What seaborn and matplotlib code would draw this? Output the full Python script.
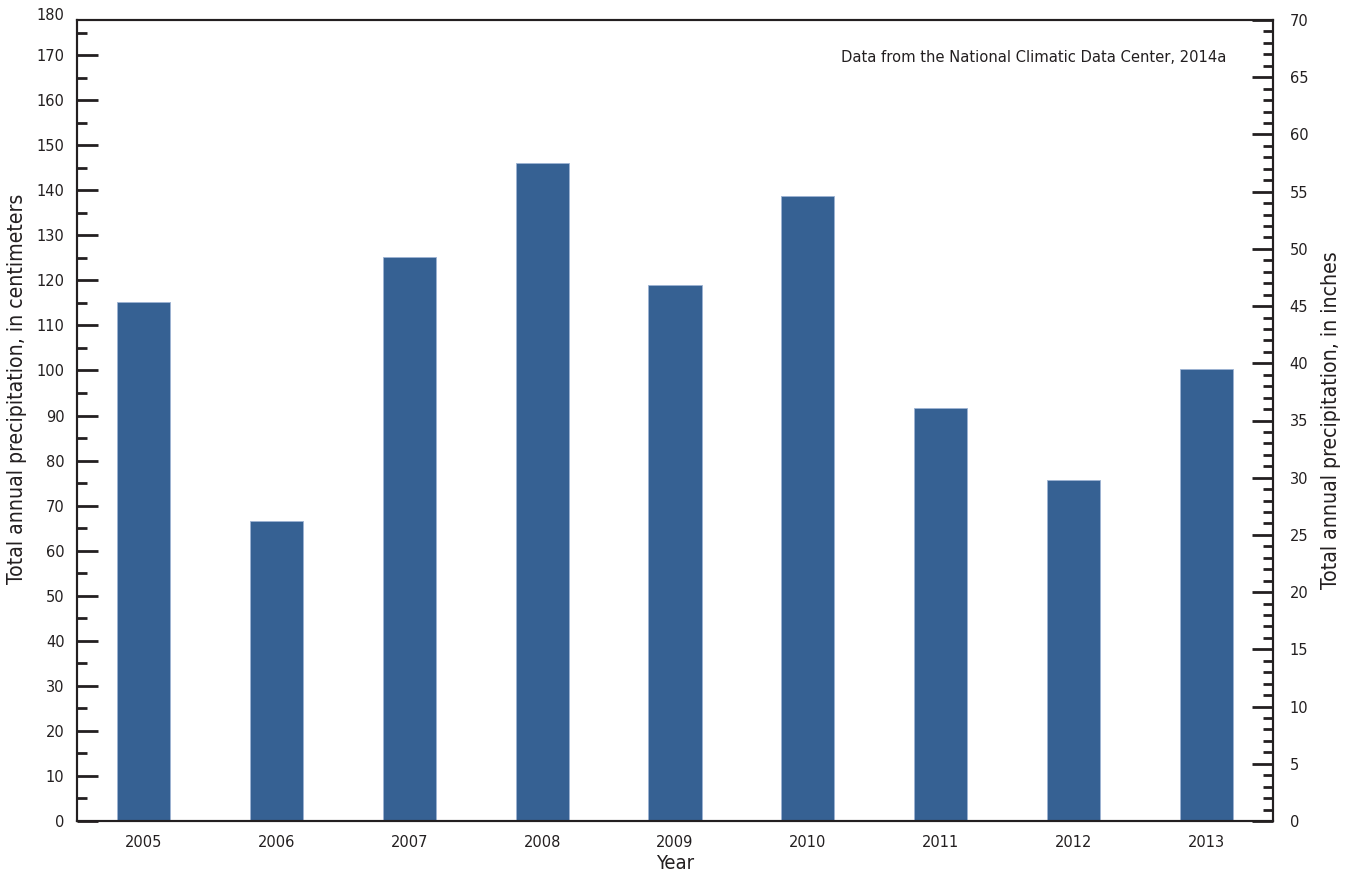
import matplotlib
matplotlib.use("Agg")
import matplotlib.pyplot as plt
import seaborn as sns
import pandas as pd
from matplotlib.ticker import MultipleLocator

years = ["2005", "2006", "2007", "2008", "2009", "2010", "2011", "2012", "2013"]
precip_cm = [115.3, 66.7, 125.3, 146.0, 118.9, 138.7, 91.6, 75.6, 100.4]
note = "Data from the National Climatic Data Center, 2014a"

sns.set_theme(style="white")
plt.rcParams["font.family"] = ["DejaVu Sans"]
plt.rcParams["font.stretch"] = "condensed"

df = pd.DataFrame({"Year": years, "cm": precip_cm})
INK = "#231f20"
TS = 11.7

fig = plt.figure(figsize=(13.51, 8.75), dpi=100)
ax = fig.add_axes([77/1351, 54/875, (1273-77)/1351, (821-20)/875])
sns.barplot(data=df, x="Year", y="cm", color="#366193", width=0.4, ax=ax,
            saturation=1, edgecolor="#9db3d3", linewidth=0.6)
ax.set_ylim(0, 177.8)
ax.set_xlim(-0.5, len(years) - 0.5)
ax.yaxis.set_major_locator(MultipleLocator(10))
ax.yaxis.set_minor_locator(MultipleLocator(5))
ax.tick_params(axis="y", which="major", direction="in", length=15, width=2, labelsize=TS, colors=INK, pad=9)
ax.tick_params(axis="y", which="minor", direction="in", length=7.5, width=2, colors=INK)
ax.tick_params(axis="x", length=0, labelsize=TS, colors=INK, pad=10)
ax.set_xlabel("Year", fontsize=14.5, color=INK, labelpad=3)
ax.set_ylabel("Total annual precipitation, in centimeters", fontsize=15.2, color=INK, labelpad=7)
ax.yaxis.label.set_y(0.54)
ax.text(-0.0105, 1.006, "180", transform=ax.transAxes, ha="right", va="center", fontsize=TS, color=INK)
for s in ax.spines.values():
    s.set_color(INK)
    s.set_linewidth(1.5)

ax2 = ax.twinx()
ax2.set_ylim(0, 70)
ax2.yaxis.set_major_locator(MultipleLocator(5))
ax2.yaxis.set_minor_locator(MultipleLocator(1))
ax2.tick_params(axis="y", which="major", direction="in", length=15, width=2, labelsize=TS, colors=INK, pad=12)
ax2.tick_params(axis="y", which="minor", direction="in", length=7.5, width=2, colors=INK)
ax2.set_ylabel("Total annual precipitation, in inches", fontsize=15.2, color=INK, labelpad=9)
for s in ax2.spines.values():
    s.set_color(INK)
    s.set_linewidth(1.5)

ax.text(0.961, 0.953, note, transform=ax.transAxes, ha="right", va="center", fontsize=11.8, color=INK)

fig.savefig("out.png", dpi=100)
